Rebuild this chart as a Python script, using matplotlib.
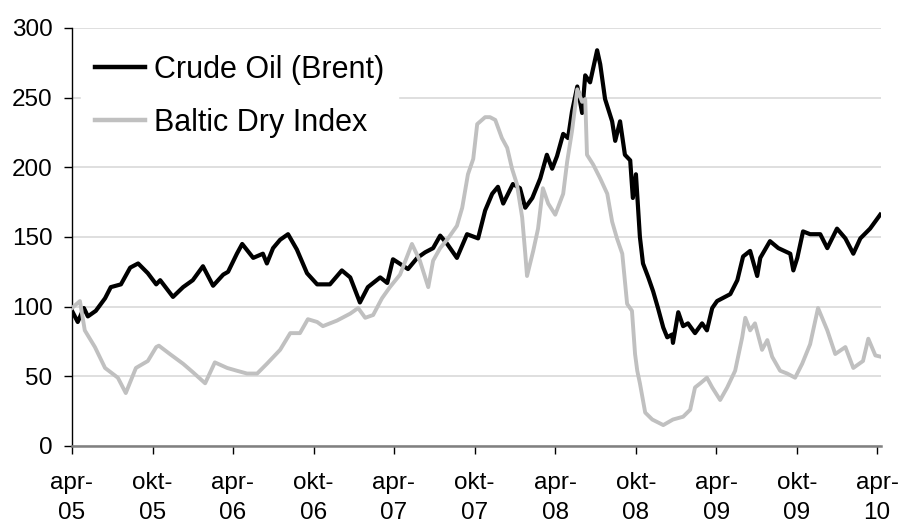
import pandas as pd
import matplotlib
matplotlib.use("Agg")
import matplotlib.pyplot as plt

plt.rcParams['font.family'] = ['Liberation Sans', 'DejaVu Sans']

# Crude Oil (Brent), indexed
oil_dates = [
    "2005-04-01", "2005-04-14", "2005-04-28", "2005-05-07", "2005-05-25", "2005-06-15",
    "2005-06-28", "2005-07-21", "2005-08-11", "2005-08-29", "2005-09-20", "2005-10-09",
    "2005-10-18", "2005-11-16", "2005-12-09", "2005-12-31", "2006-01-23", "2006-02-15",
    "2006-03-10", "2006-03-21", "2006-04-10", "2006-04-22", "2006-05-17", "2006-06-08",
    "2006-06-17", "2006-07-01", "2006-07-17", "2006-08-04", "2006-08-24", "2006-09-16",
    "2006-10-09", "2006-11-07", "2006-12-04", "2006-12-23", "2007-01-14", "2007-02-01",
    "2007-03-01", "2007-03-17", "2007-03-30", "2007-05-03", "2007-05-24", "2007-06-11",
    "2007-06-29", "2007-07-15", "2007-07-31", "2007-08-22", "2007-09-14", "2007-10-09",
    "2007-10-25", "2007-11-10", "2007-11-23", "2007-12-05", "2007-12-27", "2008-01-12",
    "2008-01-24", "2008-02-09", "2008-02-27", "2008-03-13", "2008-03-25", "2008-04-05",
    "2008-04-19", "2008-04-30", "2008-05-09", "2008-05-21", "2008-06-01", "2008-06-08",
    "2008-06-19", "2008-07-05", "2008-07-12", "2008-07-23", "2008-08-08", "2008-08-15",
    "2008-08-26", "2008-09-06", "2008-09-18", "2008-09-24", "2008-10-01", "2008-10-10",
    "2008-10-17", "2008-10-29", "2008-11-09", "2008-11-20", "2008-12-02", "2008-12-11",
    "2008-12-22", "2008-12-24", "2009-01-05", "2009-01-16", "2009-01-27", "2009-02-12",
    "2009-02-28", "2009-03-11", "2009-03-23", "2009-04-03", "2009-05-03", "2009-05-19",
    "2009-06-01", "2009-06-17", "2009-07-03", "2009-07-10", "2009-08-01", "2009-08-20",
    "2009-09-16", "2009-09-23", "2009-10-02", "2009-10-15", "2009-10-31", "2009-11-23",
    "2009-12-09", "2009-12-31", "2010-01-19", "2010-02-06", "2010-02-22", "2010-03-16",
    "2010-04-08",
]
oil_values = [
    97, 89, 99, 93, 97, 106,
    114, 116, 128, 131, 124, 116,
    119, 107, 114, 119, 129, 115,
    123, 125, 138, 145, 135, 138,
    131, 142, 148, 152, 141, 124,
    116, 116, 126, 121, 103, 114,
    121, 117, 134, 127, 135, 139,
    142, 151, 145, 135, 152, 149,
    169, 181, 186, 174, 188, 185,
    171, 178, 192, 209, 199, 208,
    224, 221, 240, 258, 239, 266,
    261, 284, 274, 249, 233, 219,
    233, 209, 205, 178, 195, 150,
    131, 121, 111, 99, 85, 78,
    80, 74, 96, 86, 88, 81,
    88, 83, 99, 104, 109, 119,
    136, 140, 122, 135, 147, 142,
    138, 126, 135, 154, 152, 152,
    142, 156, 149, 138, 149, 156,
    166,
]

# Baltic Dry Index, indexed
bdi_dates = [
    "2005-04-01", "2005-04-19", "2005-04-30", "2005-05-23", "2005-06-15", "2005-07-14",
    "2005-08-01", "2005-08-24", "2005-09-20", "2005-10-09", "2005-10-15", "2005-11-09",
    "2005-12-09", "2005-12-31", "2006-01-28", "2006-02-19", "2006-03-19", "2006-04-10",
    "2006-05-03", "2006-05-26", "2006-06-17", "2006-07-17", "2006-08-09", "2006-08-31",
    "2006-09-18", "2006-10-09", "2006-10-22", "2006-11-23", "2006-12-23", "2007-01-10",
    "2007-01-26", "2007-02-13", "2007-03-05", "2007-03-23", "2007-04-15", "2007-05-12",
    "2007-05-30", "2007-06-18", "2007-06-29", "2007-07-15", "2007-08-02", "2007-08-22",
    "2007-09-03", "2007-09-16", "2007-09-28", "2007-10-07", "2007-10-25", "2007-11-05",
    "2007-11-17", "2007-12-02", "2007-12-14", "2007-12-25", "2008-01-05", "2008-01-17",
    "2008-01-24", "2008-01-28", "2008-02-11", "2008-02-22", "2008-03-04", "2008-03-16",
    "2008-04-01", "2008-04-19", "2008-04-28", "2008-05-09", "2008-05-21", "2008-06-01",
    "2008-06-08", "2008-06-12", "2008-06-26", "2008-07-12", "2008-07-28", "2008-08-08",
    "2008-08-19", "2008-08-31", "2008-09-11", "2008-09-22", "2008-09-29", "2008-10-04",
    "2008-10-10", "2008-10-22", "2008-11-07", "2008-12-02", "2008-12-24", "2009-01-16",
    "2009-02-01", "2009-02-12", "2009-02-24", "2009-03-11", "2009-03-23", "2009-04-10",
    "2009-04-26", "2009-05-14", "2009-05-30", "2009-06-06", "2009-06-17", "2009-06-28",
    "2009-07-14", "2009-07-26", "2009-08-06", "2009-08-24", "2009-09-09", "2009-09-27",
    "2009-10-13", "2009-10-31", "2009-11-18", "2009-12-09", "2009-12-27", "2010-01-19",
    "2010-02-06", "2010-02-28", "2010-03-12", "2010-03-28", "2010-04-10",
]
bdi_values = [
    99, 104, 83, 71, 56, 49,
    38, 56, 61, 71, 72, 66,
    59, 53, 45, 60, 56, 54,
    52, 52, 59, 69, 81, 81,
    91, 89, 86, 90, 95, 99,
    92, 94, 106, 114, 123, 145,
    133, 114, 133, 142, 149, 158,
    171, 195, 206, 231, 236, 236,
    234, 221, 214, 199, 188, 164,
    138, 122, 140, 156, 185, 174,
    166, 181, 204, 226, 256, 247,
    249, 209, 202, 192, 181, 161,
    149, 138, 102, 97, 66, 54,
    45, 24, 19, 15, 19, 21,
    26, 42, 45, 49, 42, 33,
    42, 54, 78, 92, 83, 88,
    69, 76, 64, 54, 52, 49,
    59, 73, 99, 83, 66, 71,
    56, 61, 77, 65, 64,
]

tick_dates = pd.date_range("2005-04-01", "2010-04-01", freq="6MS")
tick_labels = [f"{'apr' if d.month == 4 else 'okt'}-\n{d.strftime('%y')}" for d in tick_dates]

oil = pd.Series(oil_values, index=pd.to_datetime(oil_dates))
bdi = pd.Series(bdi_values, index=pd.to_datetime(bdi_dates))

fig = plt.figure(figsize=(9.01, 5.25), dpi=100)
ax = fig.add_axes([0.0799, 0.1505, 0.898, 0.7962])

ax.plot(oil.index, oil.values, color="black", lw=3.0, label="Crude Oil (Brent)", zorder=3,
        solid_joinstyle="round")
ax.plot(bdi.index, bdi.values, color="#c0c0c0", lw=2.8, label="Baltic Dry Index", zorder=4,
        solid_joinstyle="round")

ax.set_ylim(0, 300)
ax.set_yticks(range(0, 301, 50))
ax.set_xlim(pd.Timestamp("2005-04-01"), pd.Timestamp("2010-04-10"))
ax.set_xticks(tick_dates)
ax.set_xticklabels(tick_labels, linespacing=1.45)

ax.grid(axis="y", color="#d9d9d9", lw=1.2, zorder=0)
ax.set_axisbelow(True)
for s in ["top", "right"]:
    ax.spines[s].set_visible(False)
ax.spines["left"].set_color("black")
ax.spines["left"].set_linewidth(1.0)
ax.spines["bottom"].set_color("#808080")
ax.spines["bottom"].set_linewidth(1.8)

ax.tick_params(axis="y", direction="out", length=6, width=1, color="black",
               labelsize=17.5, pad=8)
ax.tick_params(axis="x", direction="out", length=6, width=1, color="black",
               labelsize=17.5, pad=13)

leg = ax.legend(loc="upper left", bbox_to_anchor=(0.011, 0.968), borderaxespad=0,
                fontsize=22, frameon=True, fancybox=False, framealpha=1,
                edgecolor="white", facecolor="white", handlelength=1.65,
                handletextpad=0.3, labelspacing=0.75, borderpad=0.45)
for line in leg.get_lines():
    line.set_linewidth(3.2)
leg.set_zorder(5)

fig.savefig("out.png", dpi=100)
